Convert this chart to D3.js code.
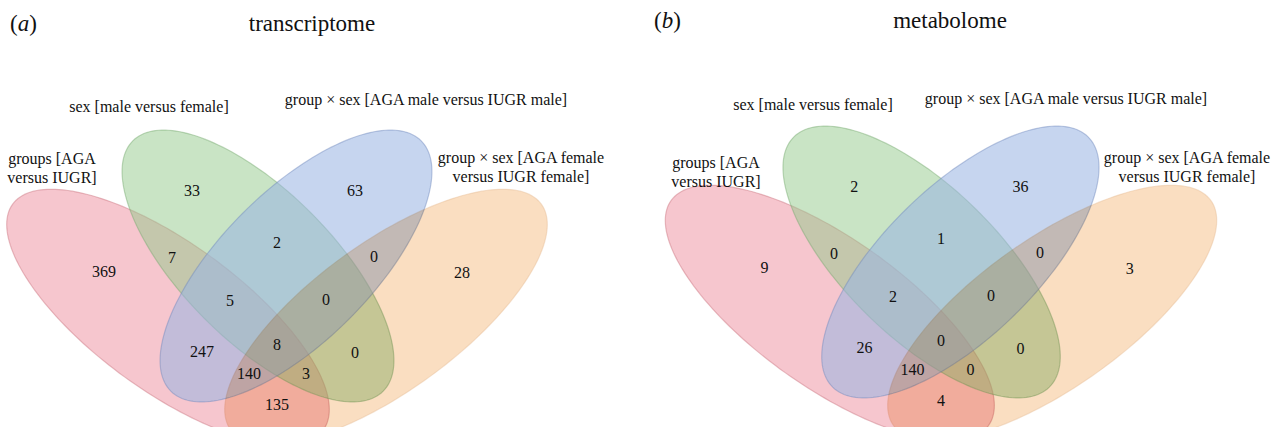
<!DOCTYPE html>
<html>
<head>
<meta charset="utf-8">
<script src="https://cdn.jsdelivr.net/npm/d3@7"></script>
<style>
  html, body { margin: 0; padding: 0; background: #fff; }
  svg { display: block; }
  text { font-family: "Liberation Serif", "Times New Roman", serif; fill: #111; }
</style>
</head>
<body>
<svg id="chart" width="1272" height="427"></svg>
<script>
// ---- data ----
const setLabelLines = [
  ["groups [AGA", "versus IUGR]"],
  ["sex [male versus female]"],
  ["group \u00d7 sex [AGA male versus IUGR male]"],
  ["group \u00d7 sex [AGA female", "versus IUGR female]"]
];
// A = groups, B = sex, C = group × sex (male), D = group × sex (female)
const regionKeys = ["A", "B", "C", "D", "AB", "BC", "CD", "ABC", "BCD", "AC", "ABCD", "BD", "ACD", "ABD", "AD"];
const transcriptomeCounts = [369, 33, 63, 28, 7, 2, 0, 5, 0, 247, 8, 0, 140, 3, 135];
const metabolomeCounts    = [9, 2, 36, 3, 0, 1, 0, 2, 0, 26, 0, 0, 140, 0, 4];
const panelLetters = ["a", "b"];
const panelTitles = ["transcriptome", "metabolome"];

// ---- styling: first three sets are translucent, the fourth multiplies ----
const setFills   = ["#ed8d9d", "#93c98b", "#9ab4e2", "#fadec1"];
const setOpacity = [0.5, 0.5, 0.56, 1];
const setBlend   = ["normal", "normal", "normal", "multiply"];
const setStrokes = ["#c9737f", "#76a86f", "#7189bd", "#e6bf98"];

// ---- layout (diagram units: x from the symmetry axis, y from the top) ----
const ellipseShapes = [
  { cx: -109, cy: 317, a: 192, b: 74, angle:  36 },
  { cx:  -19, cy: 266, a: 177, b: 75, angle:  45 },
  { cx:   19, cy: 266, a: 177, b: 75, angle: -45 },
  { cx:  109, cy: 317, a: 192, b: 74, angle: -36 }
];
const regionAnchors = {
  A: [-173, 271], B: [-85, 190], C: [78, 190], D: [185, 272],
  AB: [-105, 257], BC: [0, 242], CD: [97, 256],
  ABC: [-47, 300], BCD: [49, 299],
  AC: [-75, 351], ABCD: [0, 344], BD: [78, 352],
  ACD: [-28, 373], ABD: [29, 373], AD: [0, 404]
};

const panels = [
  { counts: transcriptomeCounts, axis: 277, xStretch: 1.0,  yShift: 0,
    letterX: 10, titleX: 312, titleY: 31,
    labels: [ { x: 52, y: 164 }, { x: 149, y: 112 }, { x: 426, y: 105 }, { x: 521, y: 163 } ] },
  { counts: metabolomeCounts, axis: 941, xStretch: 1.02, yShift: -4,
    letterX: 654, titleX: 950, titleY: 28,
    labels: [ { x: 716, y: 168 }, { x: 813, y: 110 }, { x: 1066, y: 104 }, { x: 1187, y: 163 } ] }
];

const svg = d3.select("#chart");
svg.append("rect").attr("width", 1272).attr("height", 427).attr("fill", "#fff");

const angles = d3.range(0, 360, 2).map(d => d * Math.PI / 180);

panels.forEach((p, pi) => {
  const x = d3.scaleLinear().domain([-300, 300]).range([p.axis - 300 * p.xStretch, p.axis + 300 * p.xStretch]);
  const y = d3.scaleLinear().domain([0, 427]).range([p.yShift, 427 + p.yShift]);

  const g = svg.append("g").style("isolation", "isolate");

  const ellipsePoints = e => {
    const phi = e.angle * Math.PI / 180;
    return angles.map(t => [
      e.cx + e.a * Math.cos(t) * Math.cos(phi) - e.b * Math.sin(t) * Math.sin(phi),
      e.cy + e.a * Math.cos(t) * Math.sin(phi) + e.b * Math.sin(t) * Math.cos(phi)
    ]);
  };
  const line = d3.line().x(d => x(d[0])).y(d => y(d[1])).curve(d3.curveLinearClosed);

  g.selectAll("path.set")
    .data(ellipseShapes)
    .join("path")
    .attr("class", "set")
    .attr("d", e => line(ellipsePoints(e)))
    .attr("fill", (e, i) => setFills[i])
    .attr("fill-opacity", (e, i) => setOpacity[i])
    .attr("stroke", (e, i) => setStrokes[i])
    .attr("stroke-opacity", 0.45)
    .attr("stroke-width", 1.2)
    .style("mix-blend-mode", (e, i) => setBlend[i]);

  // region counts
  svg.append("g").selectAll("text")
    .data(regionKeys.map((k, i) => ({ key: k, value: p.counts[i] })))
    .join("text")
    .attr("x", d => x(regionAnchors[d.key][0]))
    .attr("y", d => y(regionAnchors[d.key][1]))
    .attr("dy", "0.35em")
    .attr("text-anchor", "middle")
    .attr("font-size", 16)
    .text(d => d.value);

  // set names
  const lg = svg.append("g");
  setLabelLines.forEach((lines, si) => {
    const t = lg.append("text")
      .attr("x", p.labels[si].x)
      .attr("y", p.labels[si].y)
      .attr("text-anchor", "middle")
      .attr("font-size", 16);
    lines.forEach((ln, li) => {
      t.append("tspan").attr("x", p.labels[si].x).attr("dy", li === 0 ? 0 : 19).text(ln);
    });
  });

  // panel letter and title
  const letter = svg.append("text")
    .attr("x", p.letterX).attr("y", p.titleY)
    .attr("font-size", 23);
  letter.append("tspan").text("(");
  letter.append("tspan").attr("font-style", "italic").text(panelLetters[pi]);
  letter.append("tspan").text(")");

  svg.append("text")
    .attr("x", p.titleX).attr("y", p.titleY)
    .attr("text-anchor", "middle")
    .attr("font-size", 23)
    .text(panelTitles[pi]);
});
</script>
</body>
</html>
